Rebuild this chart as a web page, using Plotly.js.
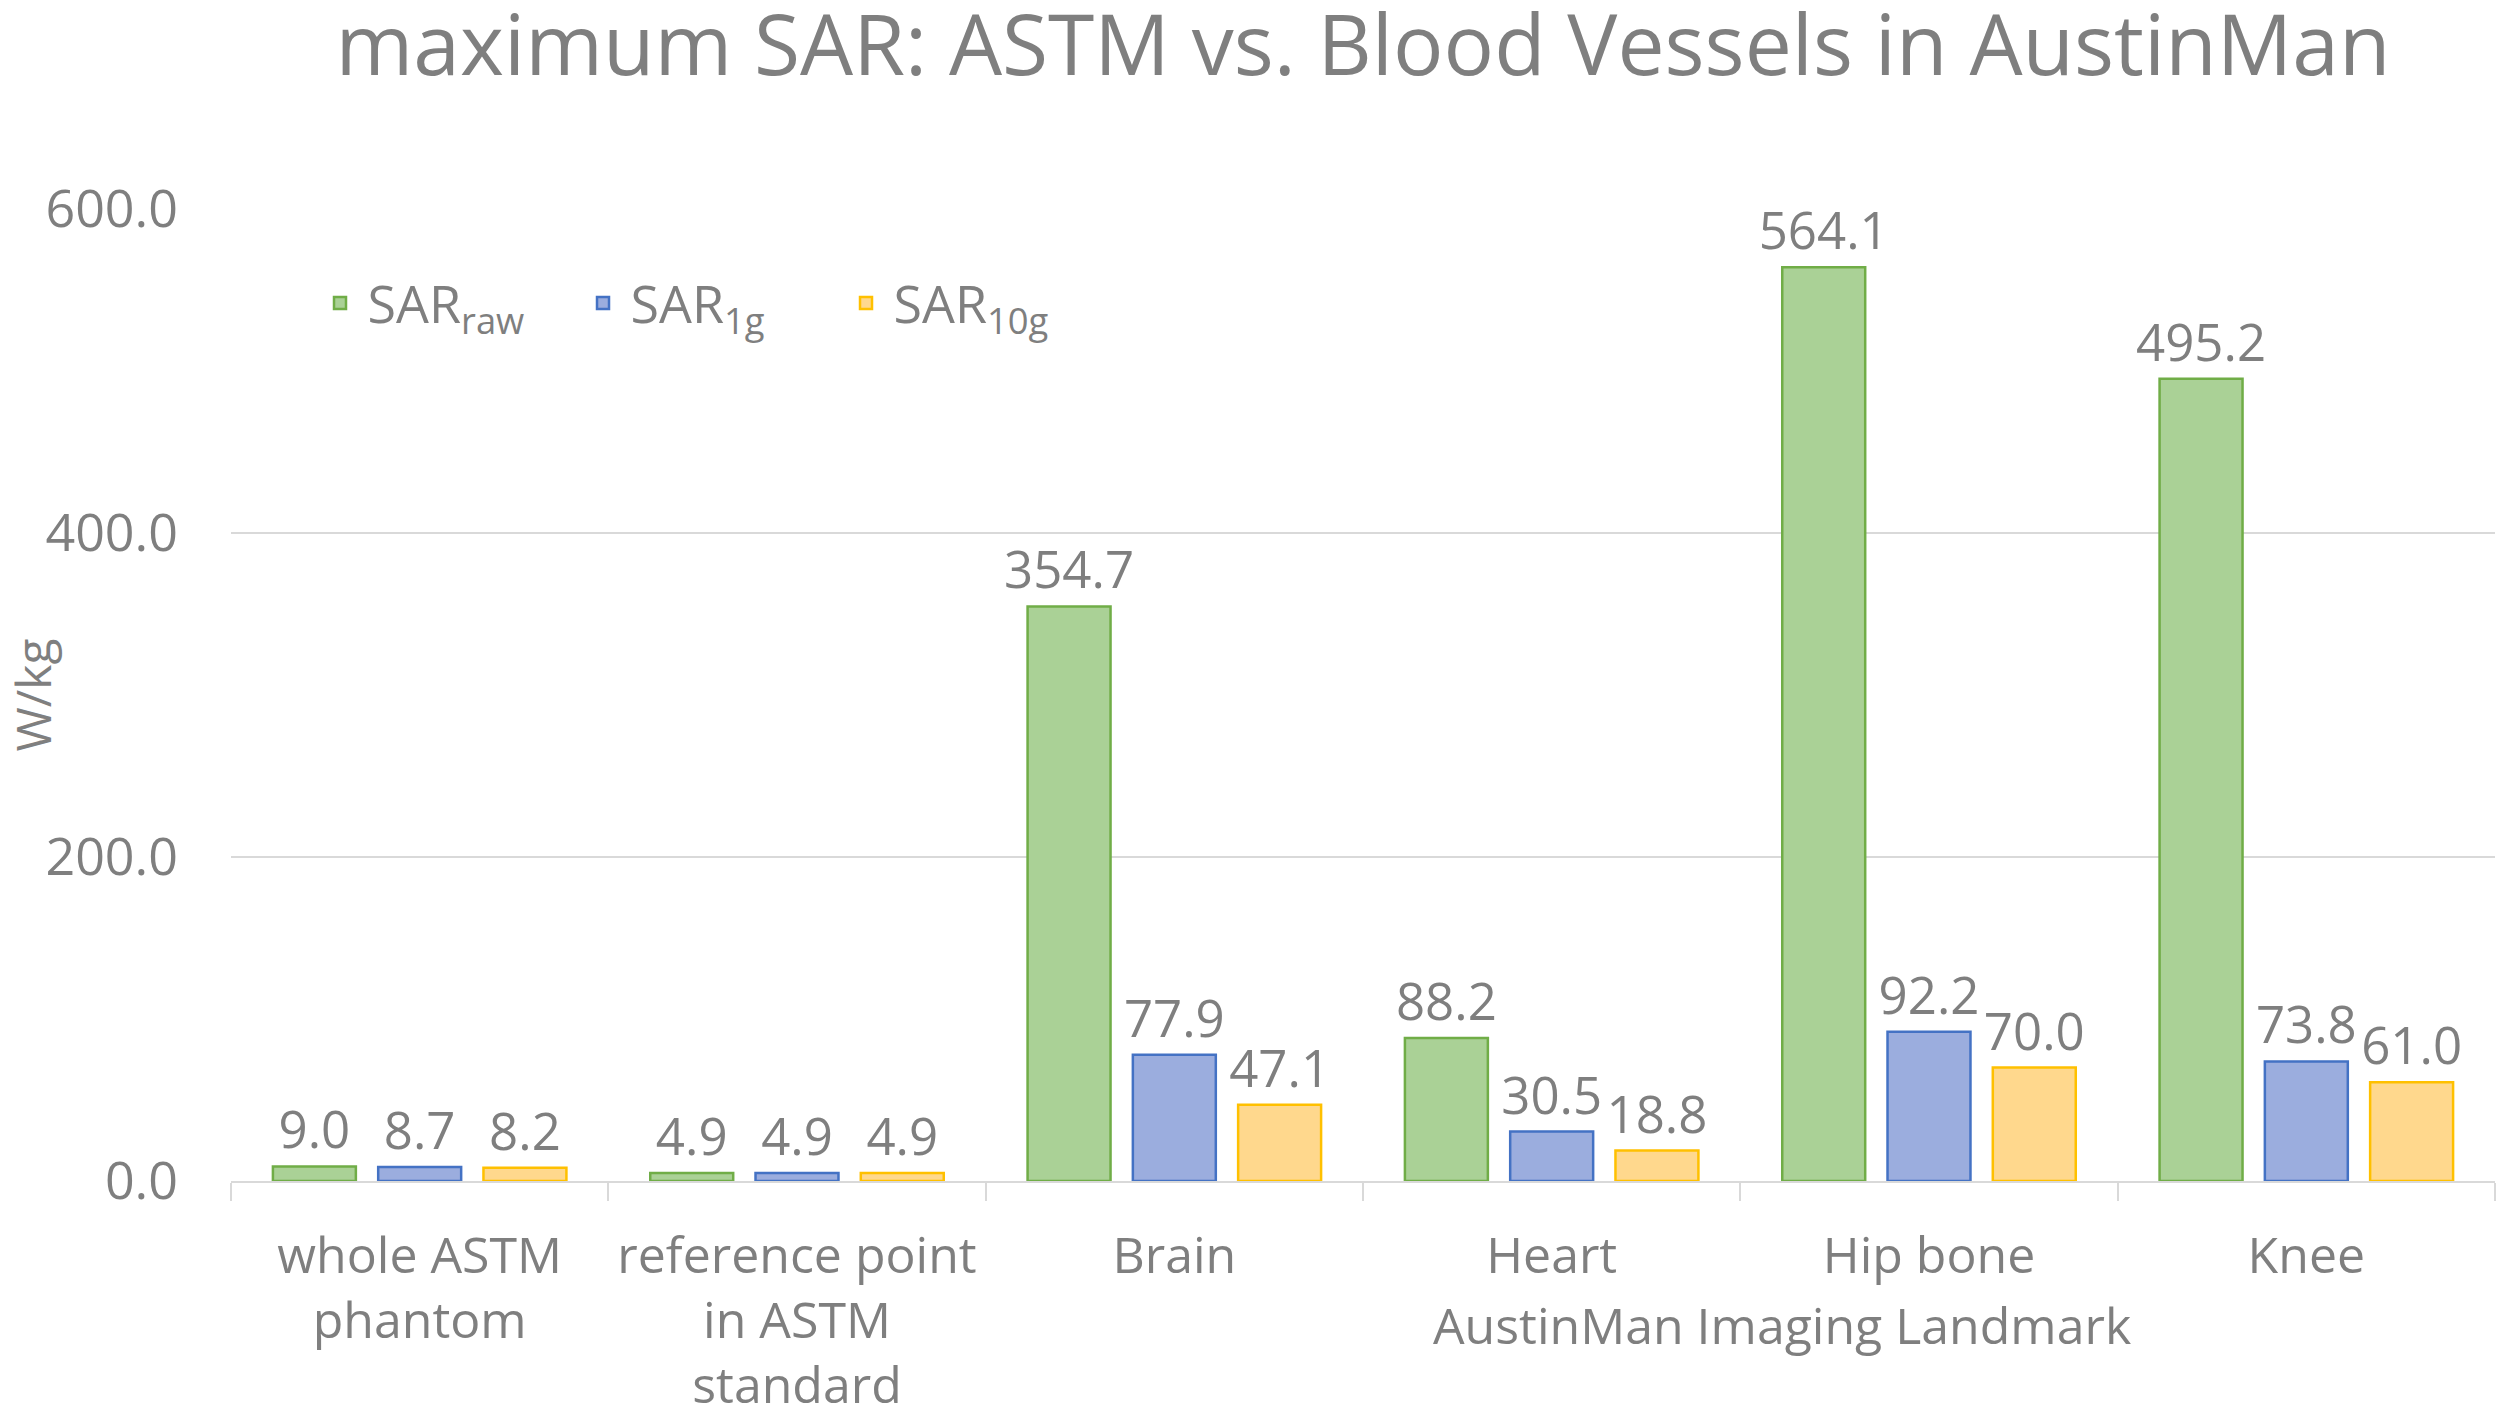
<!DOCTYPE html>
<html>
<head>
<meta charset="utf-8">
<script src="https://cdn.plot.ly/plotly-3.0.1.min.js"></script>
<style>
  html, body { margin: 0; padding: 0; background: #fff; }
  #chart { width: 2500px; height: 1419px; }
</style>
</head>
<body>
<div id="chart"></div>
<script>
var landmarks = ["whole ASTM<br>phantom", "reference point<br>in ASTM<br>standard", "Brain", "Heart", "Hip bone", "Knee"];
var sarRaw = [9.0, 4.9, 354.7, 88.2, 564.1, 495.2];
var sar1g = [8.7, 4.9, 77.9, 30.5, 92.2, 73.8];
var sar10g = [8.2, 4.9, 47.1, 18.8, 70.0, 61.0];
var yTicks = [0, 200, 400, 600];

var grey = '#7f7f7f';
var font = 'Open Sans, sans-serif';

function barTrace(name, values, fill, edge)
{
    return {
        type: 'bar',
        name: name,
        x: landmarks,
        y: values,
        marker: { color: fill, line: { color: edge, width: 2.5 } },
        text: values.map(function (v) { return v.toFixed(1); }),
        textposition: 'outside',
        constraintext: 'none',
        textfont: { family: font, size: 51, color: grey },
        cliponaxis: false,
        hoverinfo: 'x+y'
    };
}

var traces = [
    barTrace('SAR<sub>raw</sub>', sarRaw, '#aad196', '#70ad47'),
    barTrace('SAR<sub>1g</sub>', sar1g, '#9badde', '#4472c4'),
    barTrace('SAR<sub>10g</sub>', sar10g, '#ffd88d', '#ffc000')
];

var layout = {
    width: 2500,
    height: 1419,
    margin: { l: 231, r: 5, t: 209, b: 238 },
    paper_bgcolor: '#ffffff',
    plot_bgcolor: '#ffffff',
    font: { family: font, size: 50, color: grey },
    title: {
        text: 'maximum SAR: ASTM vs. Blood Vessels in AustinMan',
        font: { family: font, size: 84, color: grey },
        xref: 'paper',
        x: 0.5,
        xanchor: 'center',
        yref: 'container',
        y: 0.968,
        yanchor: 'middle'
    },
    barmode: 'group',
    bargap: 0.163,
    bargroupgap: 0.212,
    showlegend: true,
    legend: {
        orientation: 'h',
        x: 0.036,
        xanchor: 'left',
        y: 0.903,
        yanchor: 'middle',
        bgcolor: 'rgba(0,0,0,0)',
        font: { family: font, size: 52, color: grey },
        itemwidth: 45,
        entrywidth: 203,
        entrywidthmode: 'pixels',
        traceorder: 'normal'
    },
    xaxis: {
        type: 'category',
        showline: true,
        linecolor: '#d9d9d9',
        linewidth: 2,
        ticks: 'outside',
        tickson: 'boundaries',
        ticklen: 18,
        tickwidth: 2,
        tickcolor: '#d9d9d9',
        ticklabelstandoff: 30,
        tickfont: { family: font, size: 50, color: grey },
        showgrid: false,
        automargin: false
    },
    yaxis: {
        range: [0, 600],
        tickvals: yTicks,
        tickformat: '.1f',
        showgrid: true,
        gridcolor: '#d9d9d9',
        gridwidth: 2,
        zeroline: false,
        showline: false,
        ticks: '',
        ticklabelstandoff: 52,
        tickfont: { family: font, size: 52, color: grey },
        automargin: false,
        title: {
            text: 'W/kg',
            font: { family: font, size: 48, color: grey },
            standoff: 0
        }
    },
    annotations: [{
        text: 'AustinMan Imaging Landmark',
        xref: 'paper',
        yref: 'paper',
        x: 0.685,
        y: -0.148,
        xanchor: 'center',
        yanchor: 'middle',
        showarrow: false,
        font: { family: font, size: 50, color: grey }
    }]
};

Plotly.newPlot('chart', traces, layout, { displayModeBar: false, responsive: false });
</script>
</body>
</html>
